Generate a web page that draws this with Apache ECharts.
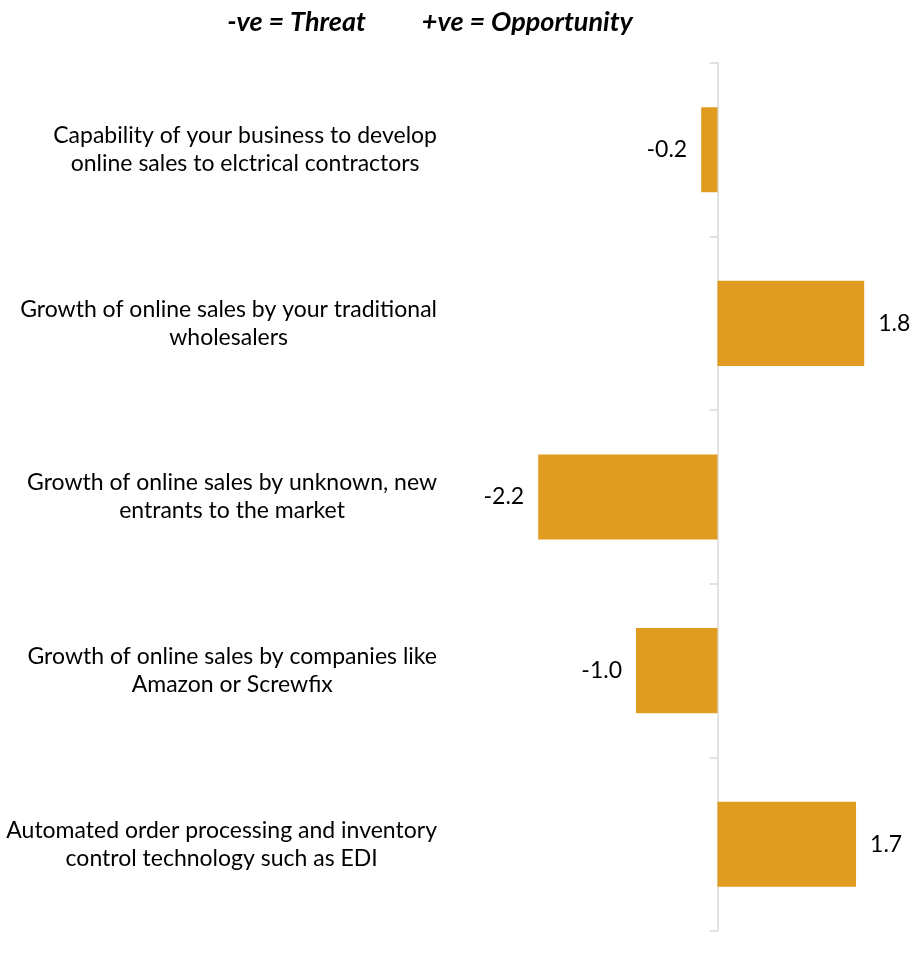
<!DOCTYPE html>
<html>
<head>
<meta charset="utf-8">
<script src="https://cdn.jsdelivr.net/npm/echarts@6/dist/echarts.min.js"></script>
<style>
  html, body { margin: 0; padding: 0; background: #ffffff; }
  #chart { width: 922px; height: 966px; }
</style>
</head>
<body>
<div id="chart"></div>
<script>
// Survey factors, listed top to bottom
const categories = [
  'Capability of your business to develop\nonline sales to elctrical contractors',
  'Growth of online sales by your traditional\nwholesalers',
  'Growth of online sales by unknown, new\nentrants to the market',
  'Growth of online sales by companies like\nAmazon or Screwfix',
  'Automated order processing and inventory\ncontrol technology such as EDI'
];
// Net score per factor (negative = threat, positive = opportunity)
const scores = [-0.2, 1.8, -2.2, -1.0, 1.7];
const headlineLeft = '-ve = Threat';
const headlineRight = '+ve = Opportunity';

const FONT = 'Lato, "Open Sans", sans-serif';
const BAR = '#E09C21';

const chart = echarts.init(document.getElementById('chart'), null, { renderer: 'canvas' });

const barData = scores.map(v => ({
  value: v,
  label: { position: v < 0 ? 'left' : 'right' }
}));

chart.setOption({
  animation: false,
  backgroundColor: '#ffffff',
  title: {
    text: '{t|' + headlineLeft + '}{gap|}{t|' + headlineRight + '}',
    left: 425,
    top: 4,
    textAlign: 'center',
    textStyle: {
      rich: {
        t: {
          fontFamily: FONT,
          fontSize: 27,
          fontWeight: 'bold',
          fontStyle: 'italic',
          color: '#000000'
        },
        gap: { width: 56 }
      }
    }
  },
  grid: { left: 473, right: 41.5, top: 63, bottom: 35, containLabel: false },
  xAxis: {
    type: 'value',
    min: -3,
    max: 2,
    interval: 1,
    show: false
  },
  yAxis: [
    {
      // zero line with category separators
      type: 'category',
      data: categories,
      inverse: true,
      position: 'left',
      axisLine: { show: true, onZero: true, lineStyle: { color: '#d9d9d9', width: 1.5 } },
      axisTick: { show: true, length: 8, lineStyle: { color: '#d9d9d9', width: 1.5 } },
      axisLabel: { show: false },
      splitLine: { show: false }
    },
    {
      // factor names along the left edge of the plot, lines centred within each block
      type: 'category',
      data: categories,
      inverse: true,
      position: 'left',
      offset: 0,
      axisLine: { show: false, onZero: false },
      axisTick: { show: false },
      splitLine: { show: false },
      axisLabel: {
        margin: 36,
        align: 'right',
        formatter: v => v.split('\n').map(s => '{c|' + s + '}').join('\n'),
        rich: {
          c: {
            align: 'center',
            fontFamily: FONT,
            fontSize: 23,
            lineHeight: 28,
            color: '#000000'
          }
        }
      }
    }
  ],
  series: [{
    type: 'bar',
    yAxisIndex: 0,
    data: barData,
    barWidth: '49%',
    itemStyle: { color: BAR },
    label: {
      show: true,
      distance: 14,
      fontFamily: FONT,
      fontSize: 23,
      color: '#000000',
      formatter: p => p.value.toFixed(1)
    }
  }]
});
</script>
</body>
</html>
